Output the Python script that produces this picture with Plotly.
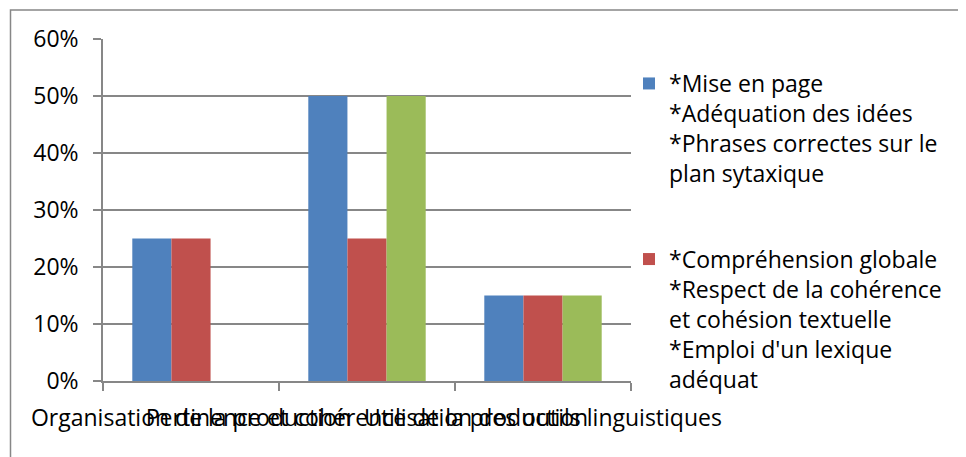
import plotly.graph_objects as go

categories = [
    "Organisation de la production",
    "Pertinence et cohérence de la production",
    "Utilisation des outils linguistiques",
]
series_names = [
    "*Mise en page<br>*Adéquation des idées<br>*Phrases correctes sur le<br>plan sytaxique",
    "*Compréhension globale<br>*Respect de la cohérence<br>et cohésion textuelle<br>*Emploi d'un lexique<br>adéquat",
    "Série 3",
]
series_values = [
    [0.25, 0.50, 0.15],
    [0.25, 0.25, 0.15],
    [0.00, 0.50, 0.15],
]
series_colors = ["#4F81BD", "#C0504D", "#9BBB59"]
series_in_legend = [True, True, False]
y_ticks = [0, 0.1, 0.2, 0.3, 0.4, 0.5, 0.6]

# page body has an 8px default margin
OFF = 8
W, H = 966 - OFF, 457 - OFF
# plot area in screen pixels: x 103..631, y 39..381
L = 103 - OFF
T = 39 - OFF
R = W - (631 - OFF)
B = H - (381 - OFF)
pw, ph = W - L - R, H - T - B

FONT = "Open Sans"
GREY = "#878787"

fig = go.Figure()
for i, (name, vals, col, show) in enumerate(zip(series_names, series_values, series_colors, series_in_legend)):
    fig.add_trace(go.Bar(
        x=categories, y=vals, name=name,
        marker=dict(color=col, line=dict(width=0)),
        showlegend=show, legendgroup=f"g{i}",
    ))

def px_to_paper_x(sx):
    return (sx - OFF - L) / pw

def px_to_paper_y(sy):
    return (H - B - (sy - OFF)) / ph

fig.update_layout(
    width=W, height=H,
    margin=dict(l=L, r=R, t=T, b=B, autoexpand=False),
    paper_bgcolor="white", plot_bgcolor="white",
    barmode="group", bargap=0.333, bargroupgap=0,
    font=dict(family=FONT, size=23, color="black"),
    legend=dict(
        x=px_to_paper_x(629), xanchor="left",
        y=px_to_paper_y(62), yanchor="top",
        valign="top", tracegroupgap=53,
        font=dict(family=FONT, size=23, color="black"),
        bgcolor="rgba(0,0,0,0)", borderwidth=0,
    ),
    xaxis=dict(
        type="category", tickangle=0, automargin=False,
        showline=True, linecolor=GREY, linewidth=1.5,
        ticks="outside", tickson="boundaries", ticklen=8, tickcolor=GREY, tickwidth=1.5,
        ticklabelstandoff=16,
        showgrid=False,
        tickfont=dict(family=FONT, size=23, color="black"),
    ),
    yaxis=dict(
        range=[0, 0.6], tickvals=y_ticks, tickformat=".0%", automargin=False,
        showline=True, linecolor=GREY, linewidth=1.5,
        ticks="outside", ticklen=8, tickcolor=GREY, tickwidth=1.5,
        ticklabelstandoff=10,
        showgrid=True, gridcolor=GREY, gridwidth=1.5,
        zeroline=False,
        tickfont=dict(family=FONT, size=23, color="black"),
    ),
    shapes=[dict(
        type="rect", xref="paper", yref="paper", layer="below",
        x0=px_to_paper_x(10.5), x1=px_to_paper_x(990),
        y0=px_to_paper_y(490), y1=px_to_paper_y(10),
        line=dict(color=GREY, width=1.5), fillcolor="rgba(0,0,0,0)",
    )],
)

fig.write_html("out.html")
